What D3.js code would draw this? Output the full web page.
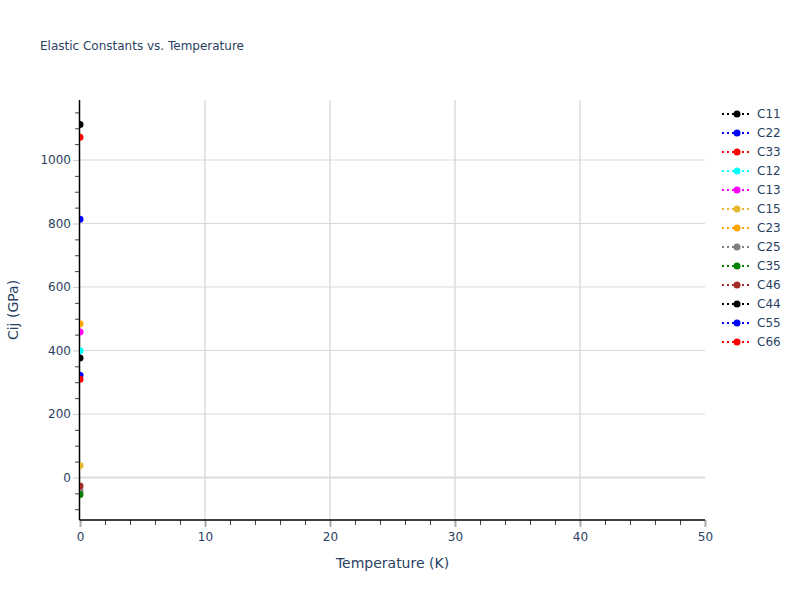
<!DOCTYPE html>
<html lang="en">
  <head>
    <meta charset="utf-8">
    <title>Elastic Constants vs. Temperature</title>
    <script src="https://d3js.org/d3.v7.min.js"></script>
    <style>
      body { margin: 0; background: white; }
      text { font-family: "DejaVu Sans", Verdana, sans-serif; fill: #2a3f5f; }
    </style>
  </head>
  <body>
    <script>
      // one temperature point per series
      const temperature = [0];
      const names = ["C11", "C22", "C33", "C12", "C13", "C15", "C23", "C25", "C35", "C46", "C44", "C55", "C66"];
      const colors = ["black", "blue", "red", "cyan", "magenta", "#e6b82e", "orange", "gray", "green", "brown", "black", "blue", "red"];
      const values = [[1112], [813], [1072], [399], [458], [38], [484], [-43], [-54], [-27], [376], [322], [309]];
      const xTicks = [0, 10, 20, 30, 40, 50];
      const yTicks = [0, 200, 400, 600, 800, 1000];

      const width = 800, height = 600;
      const plotL = 80, plotR = 705, plotT = 100, plotB = 520;

      const x = d3.scaleLinear().domain([0, 50]).range([plotL, plotR]);
      const y = d3.scaleLinear().domain([-134, 1189]).range([plotB, plotT]);

      const svg = d3.select("body").append("svg")
                    .attr("width", width)
                    .attr("height", height);

      // grid
      svg.append("g").selectAll("line").data(xTicks.slice(1, -1)).enter().append("line")
         .attr("x1", d => x(d)).attr("x2", d => x(d))
         .attr("y1", plotT).attr("y2", plotB)
         .attr("stroke", "#e5e5e5").attr("stroke-width", 2);
      svg.append("g").selectAll("line").data(yTicks.filter(d => d !== 0)).enter().append("line")
         .attr("x1", plotL).attr("x2", plotR)
         .attr("y1", d => y(d)).attr("y2", d => y(d))
         .attr("stroke", "#d9d9d9").attr("stroke-width", 1);
      svg.append("line")
         .attr("x1", plotL).attr("x2", plotR)
         .attr("y1", y(0)).attr("y2", y(0))
         .attr("stroke", "#dcdcdc").attr("stroke-width", 2);

      // minor ticks
      const xMinor = d3.range(0, 51, 2).filter(d => d % 10 !== 0);
      const yMinor = d3.range(-100, 1190, 50).filter(d => d % 200 !== 0);
      svg.append("g").attr("transform", `translate(0,${plotB})`)
         .call(d3.axisBottom(x).tickValues(xMinor).tickSize(5).tickFormat(""))
         .call(g => g.select(".domain").remove())
         .selectAll("line").attr("stroke", "#444");
      svg.append("g").attr("transform", `translate(${plotL},0)`)
         .call(d3.axisLeft(y).tickValues(yMinor).tickSize(5).tickFormat(""))
         .call(g => g.select(".domain").remove())
         .selectAll("line").attr("stroke", "#444");

      // major ticks and labels
      const xAxis = svg.append("g").attr("transform", `translate(0,${plotB})`)
         .call(d3.axisBottom(x).tickValues(xTicks).tickSize(7).tickPadding(5).tickFormat(d3.format("d")))
         .call(g => g.select(".domain").remove());
      xAxis.selectAll("line").attr("stroke", "#aaa").attr("stroke-width", 2);
      xAxis.selectAll("text").attr("font-size", 12).style("fill", "#2a3f5f");
      const yAxis = svg.append("g").attr("transform", `translate(${plotL},0)`)
         .call(d3.axisLeft(y).tickValues(yTicks).tickSize(7).tickPadding(2).tickFormat(d3.format("d")))
         .call(g => g.select(".domain").remove());
      yAxis.selectAll("line").attr("stroke", "#ccc");
      yAxis.selectAll("text").attr("font-size", 12).style("fill", "#2a3f5f");

      // axis lines
      svg.append("line").attr("x1", plotL - 0.5).attr("x2", plotR).attr("y1", plotB).attr("y2", plotB)
         .attr("stroke", "black").attr("stroke-width", 1.5);
      svg.append("line").attr("x1", plotL - 0.5).attr("x2", plotL - 0.5).attr("y1", plotT).attr("y2", plotB)
         .attr("stroke", "black").attr("stroke-width", 1.5);

      // points, clipped to the plot area
      svg.append("clipPath").attr("id", "plot")
         .append("rect").attr("x", plotL).attr("y", plotT)
         .attr("width", plotR - plotL).attr("height", plotB - plotT);
      const plot = svg.append("g").attr("clip-path", "url(#plot)");
      names.forEach((n, i) => {
        plot.selectAll(null).data(values[i]).enter().append("circle")
            .attr("cx", (d, j) => x(temperature[j]))
            .attr("cy", d => y(d))
            .attr("r", 3.5)
            .attr("fill", colors[i]);
      });

      // legend
      const legend = svg.append("g").selectAll("g").data(names).enter().append("g")
         .attr("transform", (d, i) => `translate(722,${114 + i * 19})`);
      legend.append("line").attr("x1", 0).attr("x2", 30)
         .attr("stroke", (d, i) => colors[i]).attr("stroke-width", 2)
         .attr("stroke-dasharray", "2,3");
      legend.append("circle").attr("cx", 15).attr("r", 3.5).attr("fill", (d, i) => colors[i]);
      legend.append("text").attr("x", 35).attr("dy", "0.35em")
         .attr("font-size", 12).text(d => d);

      // titles
      svg.append("text").attr("x", 40).attr("y", 50).attr("font-size", 12)
         .text("Elastic Constants vs. Temperature");
      svg.append("text").attr("x", (plotL + plotR) / 2).attr("y", 568)
         .attr("text-anchor", "middle").attr("font-size", 14)
         .text("Temperature (K)");
      svg.append("text").attr("transform", `translate(18,${(plotT + plotB) / 2}) rotate(-90)`)
         .attr("text-anchor", "middle").attr("font-size", 14)
         .text("Cij (GPa)");
    </script>
  </body>
</html>
